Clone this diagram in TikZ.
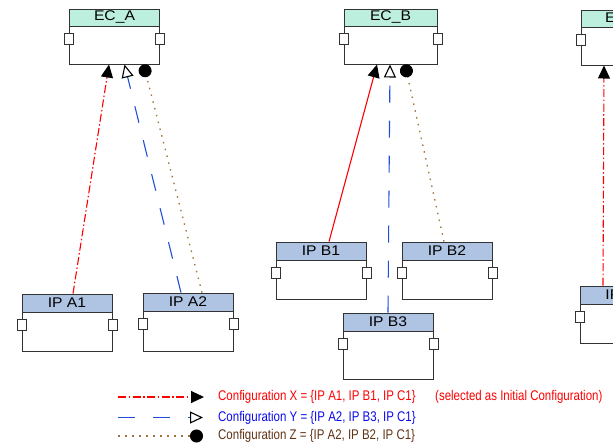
\documentclass[tikz,border=0pt]{standalone}
\usepackage{fontspec}
\newfontfamily\boxfont[FakeStretch=1.12]{Liberation Sans}
\newfontfamily\legfont[FakeStretch=0.82]{Liberation Sans}
\usetikzlibrary{arrows.meta}

\definecolor{ecgreen}{RGB}{188,239,222}
\definecolor{ipblue}{RGB}{174,196,226}
\definecolor{xred}{RGB}{255,0,0}
\definecolor{yblue}{RGB}{30,80,220}
\definecolor{ytext}{RGB}{10,10,235}
\definecolor{zbrown}{RGB}{160,115,60}
\definecolor{ztext}{RGB}{96,50,20}

\tikzset{
  head/.style={draw=black!80, line width=0.8pt, minimum width=90pt, minimum height=18pt,
    inner sep=0pt, font=\boxfont\fontsize{14}{16}\selectfont},
  ec/.style={head, fill=ecgreen, minimum height=17pt},
  ip/.style={head, fill=ipblue},
  body/.style={draw=black!80, line width=0.8pt, fill=white, minimum width=90pt,
    minimum height=39pt, inner sep=0pt, anchor=north},
  port/.style={draw=black!80, line width=0.7pt, fill=white, minimum width=9pt,
    minimum height=11pt, inner sep=0pt},
  linex/.style={draw=xred, line width=1.1pt, dash pattern=on 8pt off 2.5pt on 1.5pt off 2.5pt,
    -{Triangle[length=13pt,width=12pt,color=black]}},
  liney/.style={draw=yblue, line width=1.1pt, dash pattern=on 17pt off 18pt,
    -{Triangle[length=13pt,width=12pt,color=black,open]}},
  linez/.style={draw=zbrown, line width=1.3pt, dash pattern=on 1.5pt off 5.5pt,
    -{Circle[length=13pt,color=black]}},
  leg/.style={anchor=west, inner sep=0pt, font=\legfont\fontsize{14}{16}\selectfont}
}

\begin{document}
\begin{tikzpicture}[x=1pt,y=-1pt]

\useasboundingbox (0,0) rectangle (613,445);
\clip (0,0) rectangle (613,445);

  % EC boxes
  \node[ec] (eca) at (114.5,17.5) {EC\_A};
  \node[body,minimum height=38pt] (ecab) at (eca.south) {};
  \node[ec,minimum width=93pt] (ecb) at (390.5,17.5) {EC\_B};
  \node[body,minimum width=93pt,minimum height=38pt] (ecbb) at (ecb.south) {};
  \node[ec] (ecc) at (626,18.5) {EC\_C};
  \node[body,minimum height=38pt] (eccb) at (ecc.south) {};

  \node[port] (ecal) at ([yshift=-12pt]ecab.north west) {};
  \node[port] (ecar) at ([yshift=-12pt]ecab.north east) {};
  \node[port] (ecbl) at ([yshift=-12pt]ecbb.north west) {};
  \node[port] (ecbr) at ([yshift=-12pt]ecbb.north east) {};
  \node[port] (eccl) at ([yshift=-12pt]eccb.north west) {};

  % IP boxes
  \node[ip] (ipa1) at (67,303) {IP A1};
  \node[body] (ipa1b) at (ipa1.south) {};
  \node[ip] (ipa2) at (188,302) {IP A2};
  \node[body,minimum height=40pt] (ipa2b) at (ipa2.south) {};
  \node[ip] (ipb1) at (321,251) {IP B1};
  \node[body] (ipb1b) at (ipb1.south) {};
  \node[ip] (ipb2) at (447,251) {IP B2};
  \node[body] (ipb2b) at (ipb2.south) {};
  \node[ip] (ipb3) at (388,322) {IP B3};
  \node[body,minimum height=48pt] (ipb3b) at (ipb3.south) {};
  \node[ip] (ipc1) at (625,295) {IP C1};
  \node[body] (ipc1b) at (ipc1.south) {};

  \node[port] (ipa1l) at ([yshift=-12pt]ipa1b.north west) {};
  \node[port] (ipa1r) at ([yshift=-12pt]ipa1b.north east) {};
  \node[port] (ipa2l) at ([yshift=-12pt]ipa2b.north west) {};
  \node[port] (ipa2r) at ([yshift=-12pt]ipa2b.north east) {};
  \node[port] (ipb1l) at ([yshift=-12pt]ipb1b.north west) {};
  \node[port] (ipb1r) at ([yshift=-12pt]ipb1b.north east) {};
  \node[port] (ipb2l) at ([yshift=-12pt]ipb2b.north west) {};
  \node[port] (ipb2r) at ([yshift=-12pt]ipb2b.north east) {};
  \node[port] (ipb3l) at ([yshift=-12pt]ipb3b.north west) {};
  \node[port] (ipb3r) at ([yshift=-12pt]ipb3b.north east) {};
  \node[port] (ipc1l) at ([yshift=-12pt]ipc1b.north west) {};

  % end points under the EC boxes
  \coordinate (ecax) at (109,64.5);
  \coordinate (ecay) at (124.5,64.5);
  \coordinate (ecaz) at (143.5,64.5);
  \coordinate (ecbx) at (377,64.5);
  \coordinate (ecby) at (390,64.5);
  \coordinate (ecbz) at (405,64.5);
  \coordinate (eccx) at (604,65.5);

  \draw[linex] ([xshift=6pt]ipa1.north) -- (ecax);
  \draw[liney] ([xshift=-7pt]ipa2.north) -- (ecay);
  \draw[linez] ([xshift=14pt]ipa2.north) -- (ecaz);
  \draw[linex,solid] ([xshift=8pt]ipb1.north) -- (ecbx);
  \draw[liney] (ipb3.north) -- (ecby);
  \draw[linez] ([xshift=-3pt]ipb2.north) -- (ecbz);
  \draw[linex] ([xshift=-22pt]ipc1.north) -- (eccx);

  % legend
  \coordinate (lxa) at (118,397);
  \coordinate (lxb) at (204,397);
  \coordinate (lya) at (118,417.5);
  \coordinate (lyb) at (203,417.5);
  \coordinate (lza) at (118,436);
  \coordinate (lzb) at (203,436);
  \draw[linex] (lxa) -- (lxb);
  \draw[liney] (lya) -- (lyb);
  \draw[linez] (lza) -- (lzb);

  \node[leg,text=xred] (txtx) at (218,397) {Configuration X = \{IP A1, IP B1, IP C1\}};
  \node[leg,text=xred] (txtsel) at (435,397) {(selected as Initial Configuration)};
  \node[leg,text=ytext] (txty) at (218,417.5) {Configuration Y = \{IP A2, IP B3, IP C1\}};
  \node[leg,text=ztext] (txtz) at (218,436) {Configuration Z = \{IP A2, IP B2, IP C1\}};

\end{tikzpicture}
\end{document}
